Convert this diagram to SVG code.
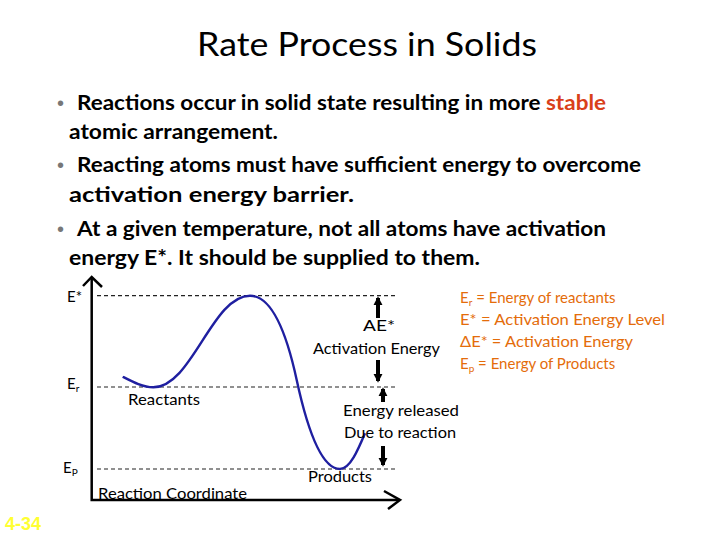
<svg xmlns="http://www.w3.org/2000/svg" width="720" height="540" viewBox="0 0 720 540">
<style>
.t{font-family:Lato,"Liberation Sans",sans-serif;fill:#000}
.b{font-size:20px;font-weight:bold}
.lab{font-size:15px}
.leg{font-family:Lato,"Liberation Sans",sans-serif;font-size:15px;fill:#E46C0A}
.dash{stroke:#222;stroke-width:1.2;stroke-dasharray:4 3;fill:none}
.ax{stroke:#000;stroke-width:2.5;fill:none}
.bul{fill:#777;font-family:"Liberation Sans",sans-serif;font-size:20px}
.arr{stroke:#000;stroke-width:4;fill:none}
</style>
<defs>
<marker id="ah" viewBox="0 0 10 10" refX="8" refY="5" markerWidth="2.3" markerHeight="2.3" orient="auto" markerUnits="strokeWidth">
<path d="M0,0 L10,5 L0,10 z" fill="#000"/>
</marker>
</defs>
<rect width="720" height="540" fill="#fff"/>
<g id="title"><text class="t" x="197" y="56" font-size="32" textLength="340" lengthAdjust="spacingAndGlyphs">Rate Process in Solids</text></g>
<g id="bullets">
<text class="bul" x="57" y="110">•</text>
<text class="bul" x="57" y="172">•</text>
<text class="bul" x="57" y="236">•</text>
<text class="t b" x="77" y="110" textLength="529" lengthAdjust="spacingAndGlyphs">Reactions occur in solid state resulting in more <tspan fill="#D9401A">stable</tspan></text>
<text class="t b" x="69" y="139" textLength="209" lengthAdjust="spacingAndGlyphs">atomic arrangement.</text>
<text class="t b" x="77" y="172" textLength="564" lengthAdjust="spacingAndGlyphs">Reacting atoms must have sufficient energy to overcome</text>
<text class="t b" x="69" y="202" textLength="285" lengthAdjust="spacingAndGlyphs">activation energy barrier.</text>
<text class="t b" x="77" y="236" textLength="529" lengthAdjust="spacingAndGlyphs">At a given temperature, not all atoms have activation</text>
<text class="t b" x="69" y="265" textLength="411" lengthAdjust="spacingAndGlyphs">energy E*. It should be supplied to them.</text>
</g>
<g id="axes">
<path class="ax" d="M91.7,278 V500 H399"/>
<path class="ax" d="M83,286 L91.7,277 L102,287"/>
<path class="ax" d="M384,491 L400,500 L388,509"/>
</g>
<g id="levels">
<path class="dash" d="M97,295.7 H397"/>
<path class="dash" d="M97,387 H397"/>
<path class="dash" d="M97,469 H397"/>
</g>
<g id="curve">
<path d="M122.7,376.7 C133,382 143,387.3 153.3,387.3 C192,387.3 212,295.7 250,295.7 C272,295.7 287,335 296.7,380 C306,423 320,469 340,469 C350,469 358,450 365,433.3" fill="none" stroke="#1F1FA0" stroke-width="2.4"/>
</g>
<g id="connectors">
<path class="arr" d="M378,318 V298" marker-end="url(#ah)"/>
<path class="arr" d="M378,360 V381" marker-end="url(#ah)"/>
<path class="arr" d="M383,402 V389" marker-end="url(#ah)"/>
<path class="arr" d="M383,446 V465" marker-end="url(#ah)"/>
</g>
<g id="labels">
<text class="t lab" x="67" y="302">E*</text>
<text class="t lab" x="67" y="389">E<tspan font-size="10" dy="3">r</tspan></text>
<text class="t lab" x="63" y="473">E<tspan font-size="10" dy="3">P</tspan></text>
<text class="t lab" x="128" y="405" textLength="72" lengthAdjust="spacingAndGlyphs">Reactants</text>
<text class="t lab" x="98" y="499" textLength="149" lengthAdjust="spacingAndGlyphs">Reaction Coordinate</text>
<text class="t lab" x="308" y="482" textLength="64" lengthAdjust="spacingAndGlyphs">Products</text>
<text class="t lab" x="363" y="331" textLength="32" lengthAdjust="spacingAndGlyphs">AE*</text>
<text class="t lab" x="313" y="354" textLength="127" lengthAdjust="spacingAndGlyphs">Activation Energy</text>
<text class="t lab" x="343" y="416" textLength="116" lengthAdjust="spacingAndGlyphs">Energy released</text>
<text class="t lab" x="344" y="438" textLength="112" lengthAdjust="spacingAndGlyphs">Due to reaction</text>
</g>
<g id="legend">
<text class="leg" x="460" y="303">E<tspan font-size="10" dy="3">r</tspan><tspan dy="-3"> = Energy of reactants</tspan></text>
<text class="leg" x="460" y="325" textLength="205" lengthAdjust="spacingAndGlyphs">E* = Activation Energy Level</text>
<text class="leg" x="460" y="347" textLength="173" lengthAdjust="spacingAndGlyphs">ΔE* = Activation Energy</text>
<text class="leg" x="460" y="369">E<tspan font-size="10" dy="3">p</tspan><tspan dy="-3"> = Energy of Products</tspan></text>
</g>
<g id="page"><text x="5" y="530" font-family="'Liberation Sans',Arial,sans-serif" font-weight="bold" font-size="18" fill="#FFFF33">4-34</text></g>
</svg>
